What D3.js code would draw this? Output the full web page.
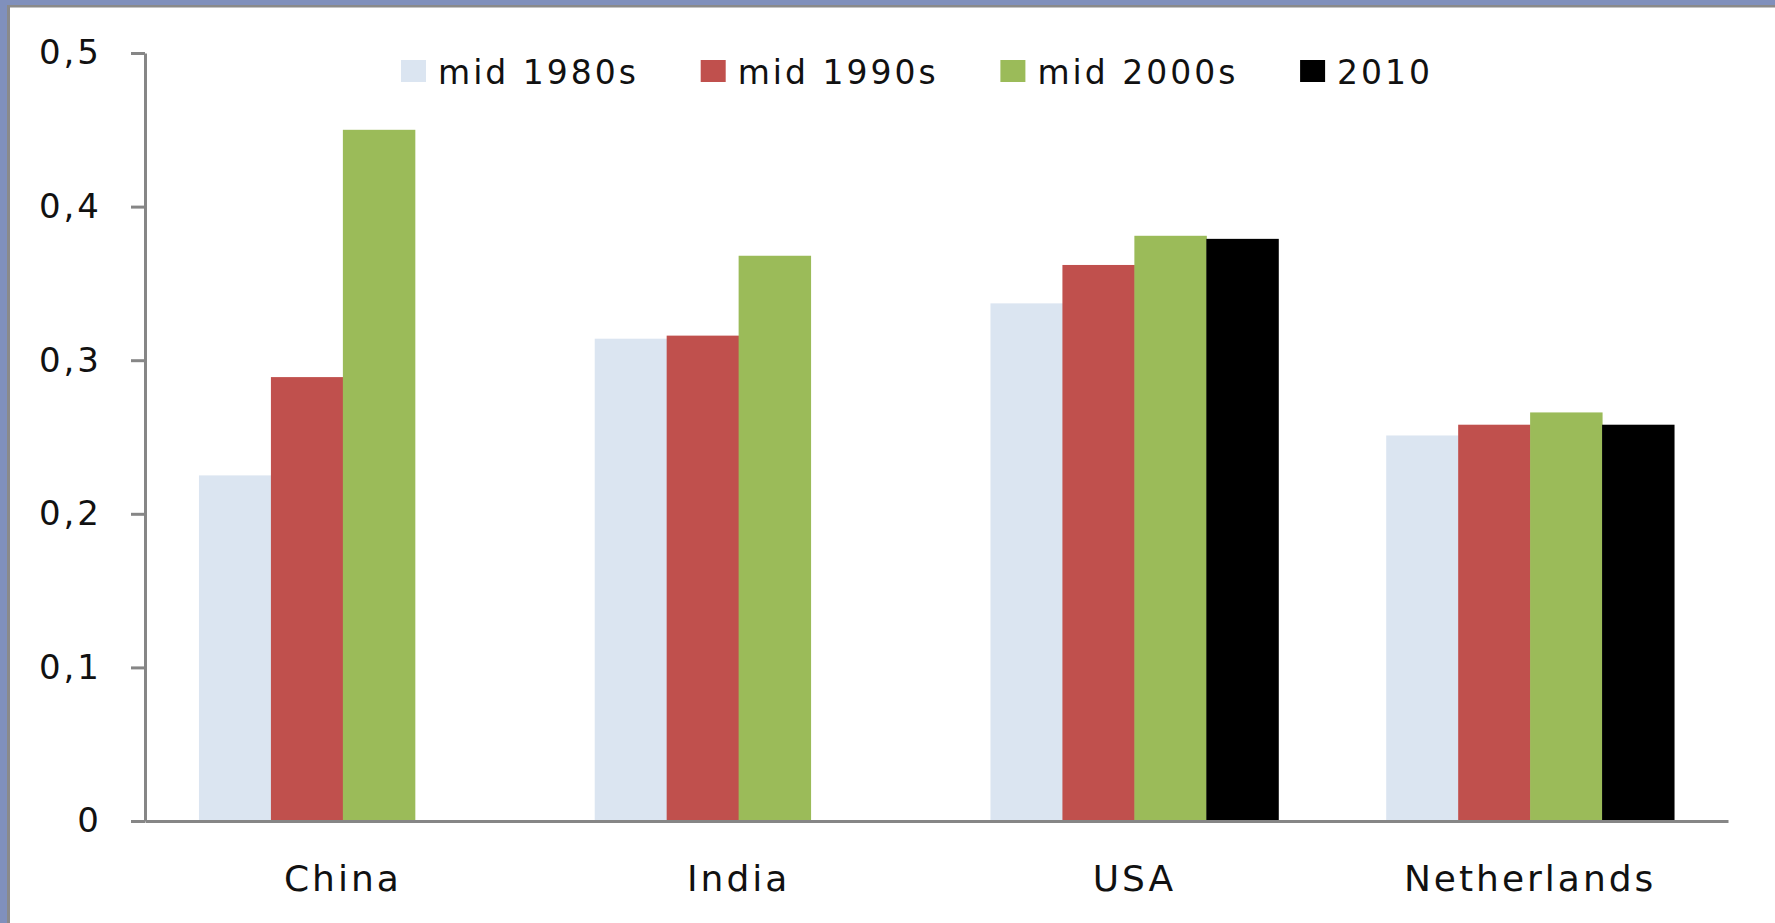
<!DOCTYPE html>
<html>
<head>
<meta charset="utf-8">
<script src="https://cdn.jsdelivr.net/npm/d3@7"></script>
<style>
  body { margin: 0; background: #fff; }
  text { font-family: "DejaVu Sans", Verdana, sans-serif; fill: #111; letter-spacing: 3px; }
</style>
</head>
<body>
<div id="chart"></div>
<script>
var width = 1775;
var height = 923;

// data
var countries = ["China", "India", "USA", "Netherlands"];
var seriesNames = ["mid 1980s", "mid 1990s", "mid 2000s", "2010"];
var mid1980s = [0.225, 0.314, 0.337, 0.251];
var mid1990s = [0.289, 0.316, 0.362, 0.258];
var mid2000s = [0.450, 0.368, 0.381, 0.266];
var y2010 = [null, null, 0.379, 0.258];
var yTicks = [0, 0.1, 0.2, 0.3, 0.4, 0.5];

var colors = ["#dbe5f1", "#c0504d", "#9bbb59", "#000000"];
var allSeries = [mid1980s, mid1990s, mid2000s, y2010];

var svg = d3.select("#chart")
  .append("svg")
    .attr("width", width)
    .attr("height", height);

// frame (blue band + grey line at top and left)
svg.append("rect").attr("x", 0).attr("y", 0).attr("width", width).attr("height", 6).attr("fill", "#8090bc");
svg.append("rect").attr("x", 0).attr("y", 0).attr("width", 7).attr("height", height).attr("fill", "#8090bc");
svg.append("rect").attr("x", 7).attr("y", 5).attr("width", width - 7).attr("height", 2.5).attr("fill", "#8a8a8a");
svg.append("rect").attr("x", 7).attr("y", 5).attr("width", 3).attr("height", height - 5).attr("fill", "#8a8a8a");

// scales
var x0 = d3.scaleBand()
  .domain(countries)
  .range([145, 1728])
  .padding(0);

var x1 = d3.scaleBand()
  .domain(seriesNames)
  .range([0, x0.bandwidth()])
  .paddingInner(0)
  .paddingOuter(0.75);

var y = d3.scaleLinear()
  .domain([0, 0.5])
  .range([821, 53]);

// bars
var groups = svg.append("g").selectAll("g")
  .data(countries)
  .enter()
  .append("g")
    .attr("transform", d => "translate(" + x0(d) + ",0)");

groups.selectAll("rect")
  .data((c, i) => seriesNames.map((s, j) => ({ series: s, idx: j, value: allSeries[j][i] })).filter(d => d.value != null))
  .enter()
  .append("rect")
    .attr("x", d => x1(d.series))
    .attr("width", x1.bandwidth() + 0.5)
    .attr("y", d => y(d.value))
    .attr("height", d => y(0) - y(d.value))
    .attr("fill", d => colors[d.idx]);

// y axis
var yAxis = d3.axisLeft(y)
  .tickValues(yTicks)
  .tickSize(14)
  .tickPadding(29)
  .tickSizeOuter(0)
  .tickFormat(d => d === 0 ? "0" : d3.format(".1f")(d).replace(".", ","));

var gy = svg.append("g")
  .attr("transform", "translate(145,0)")
  .call(yAxis);
gy.select(".domain").attr("stroke", "#868686").attr("stroke-width", 3);
gy.selectAll(".tick line").attr("stroke", "#868686").attr("stroke-width", 3);
gy.selectAll(".tick text").attr("font-size", "34px").attr("fill", "#111")
  .attr("font-family", "DejaVu Sans, Verdana, sans-serif");

// x axis
var xAxis = d3.axisBottom(x0)
  .tickSize(0)
  .tickSizeOuter(0)
  .tickPadding(44);

var gx = svg.append("g")
  .attr("transform", "translate(0,821)")
  .call(xAxis);
gx.select(".domain").attr("stroke", "#868686").attr("stroke-width", 3);
gx.selectAll(".tick text").attr("font-size", "36px").attr("fill", "#111")
  .attr("font-family", "DejaVu Sans, Verdana, sans-serif");

// legend
var legend = svg.append("g").selectAll("g")
  .data(seriesNames)
  .enter()
  .append("g")
    .attr("transform", (d, i) => "translate(" + (401 + i * 299.7) + ",60)");

legend.append("rect")
  .attr("width", 25)
  .attr("height", 22)
  .attr("fill", (d, i) => colors[i]);

legend.append("text")
  .attr("x", 37)
  .attr("y", 24)
  .attr("font-size", "33px")
  .text(d => d);
</script>
</body>
</html>
